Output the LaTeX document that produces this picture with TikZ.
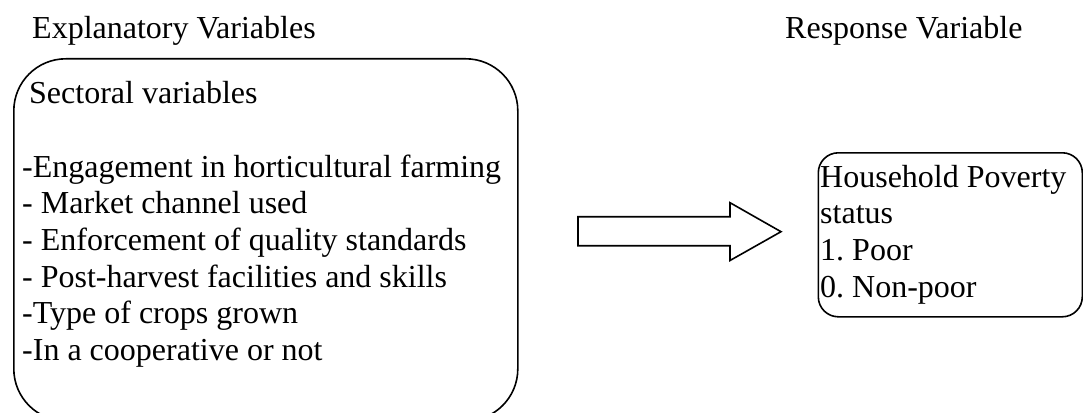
\documentclass[tikz,border=0pt]{standalone}
\usepackage{fontspec}
\setmainfont{Liberation Serif}
\frenchspacing
\begin{document}
\begin{tikzpicture}[x=1pt,y=-1pt,
  lbl/.style={anchor=base west,inner sep=0pt,font=\fontsize{32}{36.7}\selectfont},
  frame/.style={draw,line width=1.6pt,anchor=north west,inner sep=0pt},
  fatarrow/.style={draw,line width=1.6pt,line join=miter}]
\useasboundingbox (0,0) rectangle (1083,412);
% headings
\node[lbl] (hexp) at (32,39) {Explanatory Variables};
\node[lbl] (hresp) at (785,39) {Response Variable};
% left box
\node[frame,rounded corners=52pt,minimum width=504pt,minimum height=362pt] (expl) at (13,58) {};
\node[lbl] (t0) at (29,103) {Sectoral variables};
\node[lbl] (t1) at (22,177) {-Engagement in horticultural farming};
\node[lbl] (t2) at (22,213.7) {- Market channel used};
\node[lbl] (t3) at (22,250.4) {- Enforcement of quality standards};
\node[lbl] (t4) at (22,287.1) {- Post-harvest facilities and skills};
\node[lbl] (t5) at (22,323.8) {-Type of crops grown};
\node[lbl] (t6) at (22,360.5) {-In a cooperative or not};
% right box
\node[frame,rounded corners=20pt,minimum width=264pt,minimum height=164pt] (resp) at (817.5,152) {};
\node[lbl] (r1) at (820,187) {Household Poverty};
\node[lbl] (r2) at (820,223.7) {status};
\node[lbl] (r3) at (820,260.4) {1. Poor};
\node[lbl] (r4) at (820,297.1) {0. Non-poor};
% block arrow
\coordinate (a0) at (578,216.7);
\coordinate (a1) at (730,216.7);
\coordinate (a2) at (730,202.7);
\coordinate (a3) at (781,231.7);
\coordinate (a4) at (730,260.5);
\coordinate (a5) at (730,245.7);
\coordinate (a6) at (578,245.7);
\draw[fatarrow] (a0) -- (a1) -- (a2) -- (a3) -- (a4) -- (a5) -- (a6) -- cycle;
\end{tikzpicture}
\end{document}
